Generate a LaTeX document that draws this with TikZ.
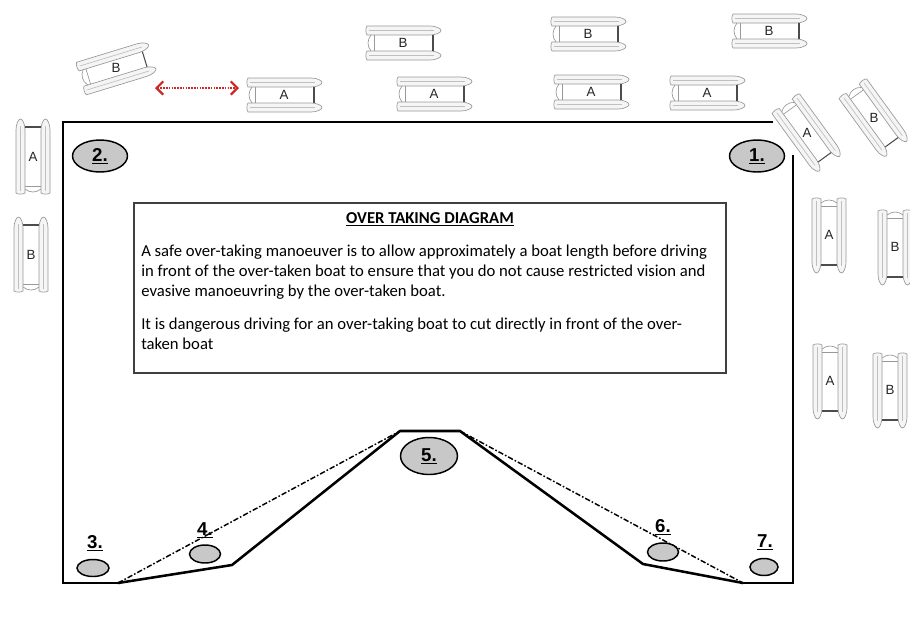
\documentclass[tikz,border=0pt]{standalone}
\usepackage{fontspec}
\setmainfont{Carlito}
\setsansfont{Liberation Sans}
\usetikzlibrary{arrows.meta,shapes.geometric}
\definecolor{ellgray}{RGB}{200,200,200}
\definecolor{arrred}{RGB}{205,40,40}
\tikzset{
  boatline/.style={draw=black!40, line width=0.5pt},
  pics/boat/.style={code={
    \draw[boatline, fill=black!4] (-36,8) -- (27,8) .. controls (33,8) and (38,10.5) .. (38,12.5) .. controls (38,14.5) and (33,17) .. (27,17) -- (-36,17) .. controls (-37.5,15) and (-37.5,10) .. (-36,8) -- cycle;
    \draw[boatline, draw=black!25] (-34,12.5) -- (31,12.5);
    \draw[boatline, fill=black!4] (-36,-8) -- (27,-8) .. controls (33,-8) and (38,-10.5) .. (38,-12.5) .. controls (38,-14.5) and (33,-17) .. (27,-17) -- (-36,-17) .. controls (-37.5,-15) and (-37.5,-10) .. (-36,-8) -- cycle;
    \draw[boatline, draw=black!25] (-34,-12.5) -- (31,-12.5);
    \draw[boatline] (-32,8) .. controls (-36,3) and (-36,-3) .. (-32,-8);
    \draw[boatline] (-29,8) -- (-29,-8);
    \draw[draw=black!70, line width=0.8pt] (30,8) -- (30,-8);
    \node[font=\sffamily\fontsize{10}{11}\selectfont, text=black!85, inner sep=0pt] (-l) at (0,0) {#1};
  }},
  frame/.style={line width=1.5pt, black},
  course/.style={line width=1.9pt, black, line join=round},
  dashdotline/.style={line width=1.1pt, black, dash pattern=on 4pt off 1.5pt on 1.2pt off 1.5pt},
  numell/.style={ellipse, draw=black, line width=1.1pt, fill=ellgray, inner sep=0pt},
  numtext/.style={font=\sffamily\bfseries\fontsize{14}{15}\selectfont},
  bodytext/.style={font=\fontsize{12.5}{15}\selectfont, anchor=base west, inner sep=0pt, align=left},
}
\begin{document}
\begin{tikzpicture}[x=0.75pt, y=-0.75pt]
\useasboundingbox (0,0) rectangle (910,633);
\fill[white] (0,0) rectangle (910,633);

% boats
\pic[rotate=17] (bB1) at (116,68) {boat=B};
\pic (bA1) at (284,95) {boat=A};
\pic (bB2) at (403,43) {boat=B};
\pic (bA2) at (434,94) {boat=A};
\pic (bB3) at (588,34) {boat=B};
\pic (bA3) at (591,92) {boat=A};
\pic (bA4) at (707,93) {boat=A};
\pic (bB4) at (769,31) {boat=B};
\pic[rotate=-54] (bA5) at (807,133) {boat=A};
\pic[rotate=-54] (bB5) at (874,118) {boat=B};
\pic[rotate=-90] (bA6) at (829,235) {boat=A};
\pic[rotate=-90] (bB6) at (895,247) {boat=B};
\pic[rotate=-90] (bA7) at (830,381) {boat=A};
\pic[rotate=-90] (bB7) at (890,390) {boat=B};
\pic[rotate=90] (bA8) at (33,157) {boat=A};
\pic[rotate=90] (bB8) at (31,255) {boat=B};

% red distance arrow
\coordinate (ar1) at (155,88);
\coordinate (ar2) at (239,88);
\draw[arrred, line width=1.3pt, dash pattern=on 1.2pt off 0.9pt,
  {Straight Barb[length=5pt,width=10pt,line width=1.6pt]}-{Straight Barb[length=5pt,width=10pt,line width=1.6pt]}] (ar1) -- (ar2);

% course frame
\coordinate (tl) at (63,122);
\coordinate (tr) at (773,122);
\coordinate (rt) at (793,155);
\coordinate (p0) at (63,583);
\coordinate (p1) at (118,583);
\coordinate (p2) at (232,565);
\coordinate (p3) at (400,431);
\coordinate (p4) at (460,431);
\coordinate (p5) at (643,564);
\coordinate (p6) at (743,583);
\coordinate (p7) at (793,583);
\draw[frame] (tr) -- (tl) -- (p0) -- (p1);
\draw[frame] (p6) -- (p7) -- (rt);
\draw[course] (p1) -- (p2) -- (p3) -- (p4) -- (p5) -- (p6);
\draw[dashdotline] (p1) -- (p3);
\draw[dashdotline] (p4) -- (p6);

% text box
\draw[black!75, line width=0.8pt] (134,203) rectangle (726,373);
\node[font=\bfseries\fontsize{12.5}{15}\selectfont, anchor=base, inner sep=0pt] (title) at (430,223) {\underline{OVER TAKING DIAGRAM}};
\node[bodytext] (para1) at (141,296) {A safe over-taking manoeuver is to allow approximately a boat length before driving\\in front of the over-taken boat to ensure that you do not cause restricted vision and\\evasive manoeuvring by the over-taken boat.};
\node[bodytext] (para2) at (141,349) {It is dangerous driving for an over-taking boat to cut directly in front of the over-\\taken boat};

% numbered marks
\node[numell, minimum width=55pt*0.75, minimum height=32pt*0.75, numtext] (n2) at (100,156) {\underline{2.}};
\node[numell, minimum width=55pt*0.75, minimum height=32pt*0.75, numtext] (n1) at (757,156) {\underline{1.}};
\node[numell, minimum width=57pt*0.75, minimum height=37pt*0.75, numtext] (n5) at (429,456) {\underline{5.}};
\node[numell, minimum width=32pt*0.75, minimum height=17pt*0.75] (e3) at (93,568) {};
\node[numell, minimum width=31pt*0.75, minimum height=18pt*0.75] (e4) at (205,554) {};
\node[numell, minimum width=31pt*0.75, minimum height=18pt*0.75] (e6) at (663,552) {};
\node[numell, minimum width=28pt*0.75, minimum height=17pt*0.75] (e7) at (764,567) {};
\node[numtext, inner sep=0pt] (l3) at (95,543) {\underline{3.}};
\node[numtext, inner sep=0pt] (l4) at (205,530) {\underline{4.}};
\node[numtext, inner sep=0pt] (l6) at (663,527) {\underline{6.}};
\node[numtext, inner sep=0pt] (l7) at (765,542) {\underline{7.}};
\end{tikzpicture}
\end{document}
